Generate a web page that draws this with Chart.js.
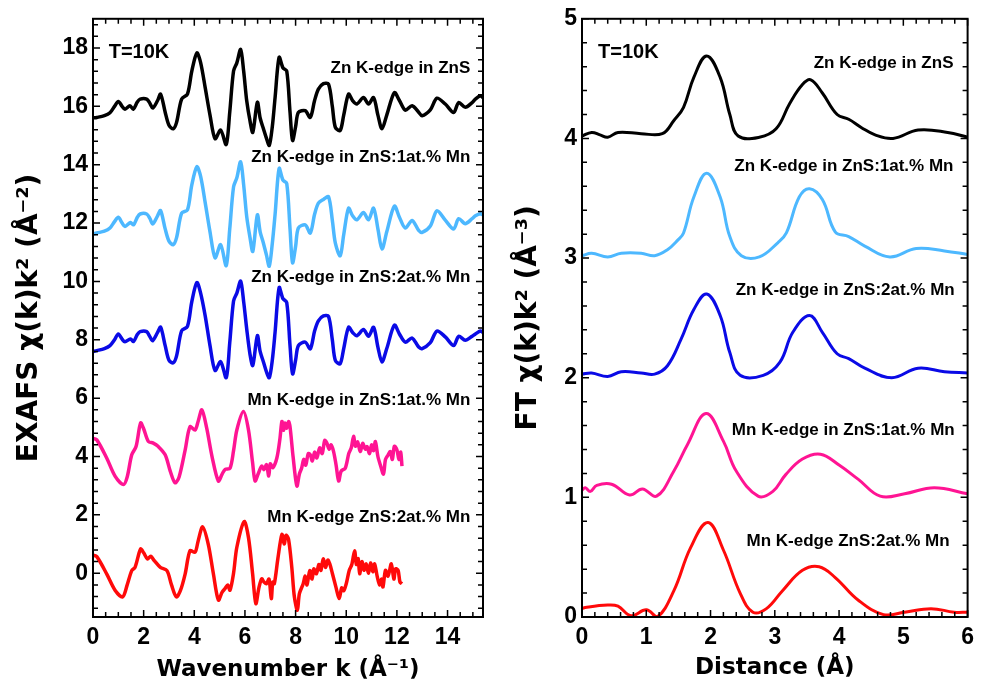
<!DOCTYPE html>
<html>
<head>
<meta charset="utf-8">
<script src="https://cdn.jsdelivr.net/npm/chart.js@4.4.1/dist/chart.umd.min.js"></script>
<style>
  html, body { margin: 0; padding: 0; background: #fff; }
  #wrap { position: relative; width: 981px; height: 689px; }
  #exafs { position: absolute; left: 0; top: 0; }
  #ft { position: absolute; left: 490px; top: 0; }
</style>
</head>
<body>
<div id="wrap">
  <canvas id="exafs" width="490" height="689"></canvas>
  <canvas id="ft" width="491" height="689"></canvas>
</div>
<script>
// ---- EXAFS chi(k)k^2, offset curves (left panel) ----
const znsK = [0.0, 0.15, 0.45, 0.67, 0.85, 1.0, 1.15, 1.26, 1.46, 1.59, 1.75, 1.86, 2.12, 2.25, 2.36, 2.55, 2.67, 2.85, 3.0, 3.17, 3.3, 3.5, 3.73, 3.9, 4.1, 4.25, 4.43, 4.62, 4.82, 5.04, 5.26, 5.4, 5.55, 5.68, 5.83, 5.95, 6.07, 6.2, 6.31, 6.49, 6.6, 6.73, 6.85, 6.96, 7.08, 7.19, 7.35, 7.5, 7.65, 7.78, 7.88, 8.0, 8.11, 8.38, 8.58, 8.75, 8.9, 9.1, 9.3, 9.45, 9.57, 9.76, 9.9, 10.09, 10.25, 10.42, 10.68, 10.88, 11.08, 11.25, 11.41, 11.6, 11.9, 12.1, 12.33, 12.6, 12.86, 12.99, 13.32, 13.58, 13.91, 14.24, 14.44, 14.7, 14.97, 15.1, 15.3, 15.4];
const znsV = [15.6, 15.62, 15.68, 15.78, 16.0, 16.17, 16.0, 15.9, 16.02, 15.9, 16.15, 16.25, 16.25, 16.1, 15.94, 16.2, 16.42, 15.8, 15.35, 15.23, 15.45, 16.25, 16.42, 17.2, 17.83, 17.5, 16.64, 15.7, 14.89, 15.19, 14.69, 15.8, 17.21, 17.49, 17.95, 17.2, 16.19, 15.5, 15.11, 16.14, 15.6, 15.23, 14.9, 14.66, 15.3, 16.3, 17.68, 17.32, 17.21, 15.8, 14.83, 15.3, 15.79, 15.85, 15.62, 16.2, 16.59, 16.78, 16.76, 16.0, 15.28, 15.17, 15.7, 16.42, 16.2, 16.08, 16.3, 16.08, 16.3, 15.7, 15.23, 15.7, 16.47, 16.2, 15.87, 16.02, 15.8, 15.68, 15.88, 16.28, 16.08, 15.79, 16.13, 15.97, 16.13, 16.25, 16.36, 16.3];

const zn1K = [0.0, 0.15, 0.45, 0.67, 0.85, 1.0, 1.15, 1.26, 1.48, 1.6, 1.75, 1.86, 2.12, 2.25, 2.36, 2.55, 2.67, 2.85, 3.0, 3.17, 3.3, 3.5, 3.73, 3.9, 4.1, 4.25, 4.43, 4.62, 4.82, 5.04, 5.26, 5.4, 5.55, 5.68, 5.83, 5.95, 6.07, 6.2, 6.31, 6.49, 6.6, 6.73, 6.85, 6.96, 7.08, 7.19, 7.35, 7.5, 7.65, 7.78, 7.88, 8.0, 8.11, 8.38, 8.58, 8.75, 8.9, 9.1, 9.3, 9.45, 9.57, 9.76, 9.9, 10.09, 10.25, 10.42, 10.68, 10.88, 11.08, 11.25, 11.41, 11.6, 11.9, 12.1, 12.33, 12.6, 12.86, 13.0, 13.32, 13.58, 13.91, 14.24, 14.44, 14.7, 14.97, 15.1, 15.3, 15.4];
const zn1V = [11.62, 11.66, 11.72, 11.83, 12.05, 12.2, 12.0, 11.88, 12.02, 11.94, 12.2, 12.31, 12.31, 12.15, 11.97, 12.25, 12.43, 11.8, 11.38, 11.26, 11.5, 12.34, 12.45, 13.3, 13.93, 13.6, 12.7, 11.7, 10.81, 11.26, 10.54, 11.8, 13.24, 13.55, 14.1, 13.3, 12.22, 11.5, 11.03, 12.28, 11.7, 11.31, 10.9, 10.52, 11.3, 12.3, 13.87, 13.47, 13.36, 11.8, 10.64, 11.2, 11.83, 11.94, 11.66, 12.3, 12.68, 12.81, 12.9, 12.1, 11.31, 10.88, 11.6, 12.51, 12.25, 12.11, 12.36, 12.11, 12.51, 11.8, 11.11, 11.7, 12.58, 12.2, 11.83, 12.09, 11.75, 11.68, 11.9, 12.42, 12.1, 11.8, 12.15, 11.98, 12.15, 12.25, 12.32, 12.28];

const zn2K = [0.0, 0.15, 0.45, 0.67, 0.85, 1.0, 1.15, 1.26, 1.48, 1.6, 1.75, 1.86, 2.12, 2.25, 2.36, 2.55, 2.67, 2.85, 3.0, 3.17, 3.3, 3.5, 3.73, 3.9, 4.1, 4.25, 4.43, 4.62, 4.82, 5.04, 5.26, 5.4, 5.55, 5.68, 5.83, 5.95, 6.07, 6.2, 6.31, 6.49, 6.6, 6.73, 6.85, 6.96, 7.08, 7.19, 7.35, 7.5, 7.65, 7.78, 7.88, 8.0, 8.11, 8.38, 8.58, 8.75, 8.9, 9.1, 9.3, 9.45, 9.57, 9.76, 9.9, 10.09, 10.25, 10.42, 10.68, 10.88, 11.08, 11.25, 11.41, 11.6, 11.9, 12.1, 12.33, 12.6, 12.86, 13.0, 13.32, 13.58, 13.91, 14.24, 14.44, 14.7, 14.97, 15.1, 15.3, 15.4];
const zn2V = [7.6, 7.63, 7.7, 7.8, 8.0, 8.2, 8.02, 7.93, 8.03, 7.94, 8.18, 8.28, 8.28, 8.1, 7.97, 8.25, 8.43, 7.8, 7.3, 7.21, 7.45, 8.31, 8.46, 9.3, 9.96, 9.6, 8.82, 7.8, 6.95, 7.25, 6.7, 7.9, 9.33, 9.6, 10.01, 9.3, 8.37, 7.5, 7.12, 8.14, 7.6, 7.24, 6.9, 6.7, 7.3, 8.26, 9.79, 9.41, 9.28, 7.8, 6.83, 7.3, 7.8, 7.92, 7.69, 8.3, 8.65, 8.82, 8.8, 8.0, 7.29, 7.18, 7.7, 8.43, 8.25, 8.14, 8.35, 8.12, 8.43, 7.75, 7.24, 7.7, 8.5, 8.2, 7.92, 8.06, 7.75, 7.7, 7.9, 8.3, 8.1, 7.8, 8.12, 7.98, 8.12, 8.2, 8.3, 8.25];

const mn1K = [0.0, 0.15, 0.54, 0.87, 1.2, 1.35, 1.53, 1.7, 1.88, 2.0, 2.19, 2.38, 2.58, 2.85, 3.05, 3.24, 3.4, 3.64, 3.83, 4.03, 4.15, 4.3, 4.49, 4.7, 4.95, 5.1, 5.22, 5.41, 5.55, 5.68, 5.94, 6.14, 6.3, 6.4, 6.52, 6.66, 6.75, 6.85, 6.94, 7.0, 7.1, 7.26, 7.38, 7.46, 7.52, 7.58, 7.65, 7.72, 7.78, 7.9, 8.05, 8.15, 8.24, 8.32, 8.4, 8.5, 8.58, 8.66, 8.75, 8.84, 8.95, 9.05, 9.15, 9.23, 9.32, 9.4, 9.5, 9.6, 9.7, 9.8, 9.96, 10.1, 10.2, 10.29, 10.36, 10.45, 10.55, 10.65, 10.75, 10.82, 10.92, 11.0, 11.08, 11.15, 11.25, 11.35, 11.47, 11.55, 11.65, 11.74, 11.82, 11.9, 12.0, 12.08, 12.15, 12.2];
const mn1V = [4.62, 4.57, 3.95, 3.33, 3.04, 3.3, 4.06, 4.34, 5.15, 4.95, 4.51, 4.46, 4.34, 4.06, 3.5, 3.1, 3.3, 4.23, 5.02, 4.91, 5.2, 5.6, 4.97, 4.0, 3.16, 3.4, 3.56, 3.6, 4.2, 4.91, 5.54, 4.91, 3.8, 3.16, 3.4, 3.67, 3.55, 3.72, 3.33, 3.75, 3.62, 3.95, 4.6, 5.2, 4.9, 5.15, 4.97, 5.2, 5.02, 4.0, 2.99, 3.4, 3.61, 3.9, 3.7, 4.1, 4.06, 3.85, 4.15, 3.95, 4.3, 4.1, 4.55, 4.47, 4.25, 4.4, 4.17, 3.7, 3.16, 3.5, 3.6, 4.1, 4.3, 4.69, 4.35, 4.5, 4.17, 4.45, 4.25, 4.34, 4.1, 4.4, 4.2, 4.51, 4.0, 3.7, 3.4, 3.9, 4.05, 4.17, 3.9, 4.35, 4.23, 3.9, 4.15, 3.67];

const mn2K = [0.0, 0.15, 0.54, 0.87, 1.17, 1.35, 1.53, 1.66, 1.88, 2.0, 2.15, 2.28, 2.42, 2.66, 2.92, 3.1, 3.29, 3.45, 3.64, 3.83, 4.03, 4.15, 4.33, 4.55, 4.75, 4.95, 5.1, 5.22, 5.32, 5.41, 5.55, 5.68, 5.97, 6.14, 6.3, 6.43, 6.55, 6.66, 6.75, 6.85, 6.95, 7.04, 7.1, 7.16, 7.3, 7.46, 7.55, 7.62, 7.72, 7.85, 7.95, 8.07, 8.15, 8.3, 8.38, 8.45, 8.56, 8.65, 8.72, 8.82, 8.92, 9.0, 9.09, 9.18, 9.27, 9.35, 9.45, 9.6, 9.72, 9.82, 9.9, 10.0, 10.12, 10.22, 10.33, 10.4, 10.47, 10.53, 10.62, 10.7, 10.79, 10.88, 10.96, 11.05, 11.12, 11.22, 11.32, 11.4, 11.45, 11.55, 11.65, 11.78, 11.88, 11.95, 12.05, 12.12, 12.2];
const mn2V = [0.62, 0.57, -0.02, -0.58, -0.81, -0.4, 0.09, 0.2, 0.83, 0.7, 0.49, 0.58, 0.43, 0.2, 0.09, -0.4, -0.81, -0.6, -0.02, 0.77, 0.72, 1.1, 1.59, 1.0, 0.0, -0.92, -0.65, -0.52, -0.4, -0.58, 0.0, 0.89, 1.77, 1.22, 0.0, -1.04, -0.5, -0.19, -0.3, -0.36, -0.2, -0.87, -0.3, -0.36, 0.5, 1.33, 1.0, 1.3, 1.17, 0.2, -0.8, -1.27, -0.7, -0.36, -0.1, -0.4, 0.09, -0.2, 0.15, -0.02, 0.3, 0.1, 0.49, 0.2, 0.45, 0.32, 0.0, -0.5, -0.87, -0.5, -0.6, -0.36, 0.1, 0.3, 0.77, 0.3, 0.5, -0.02, 0.4, 0.1, 0.32, 0.0, 0.35, 0.05, 0.32, -0.1, -0.4, -0.2, -0.47, 0.1, -0.1, 0.32, -0.2, 0.15, 0.09, -0.3, -0.36];

// ---- Fourier transforms (right panel) ----
const ftZnsR = [0.0, 0.15, 0.28, 0.4, 0.56, 0.92, 1.25, 1.43, 1.58, 1.74, 1.94, 2.15, 2.3, 2.43, 2.76, 3.02, 3.23, 3.43, 3.56, 3.74, 3.97, 4.15, 4.35, 4.56, 4.84, 5.23, 5.69, 6.0];
const ftZnsV = [4.02, 4.05, 4.03, 4.01, 4.05, 4.04, 4.04, 4.15, 4.26, 4.51, 4.69, 4.51, 4.2, 4.02, 4.01, 4.08, 4.29, 4.45, 4.49, 4.38, 4.2, 4.16, 4.09, 4.03, 4.0, 4.07, 4.05, 4.01];

const ftZn1R = [0.0, 0.15, 0.4, 0.61, 0.92, 1.13, 1.33, 1.49, 1.58, 1.74, 1.94, 2.15, 2.3, 2.48, 2.76, 3.05, 3.18, 3.38, 3.54, 3.74, 3.94, 4.15, 4.4, 4.79, 5.2, 5.64, 6.0];
const ftZn1V = [3.02, 3.04, 3.01, 3.04, 3.04, 3.02, 3.07, 3.15, 3.21, 3.51, 3.71, 3.51, 3.18, 3.02, 3.01, 3.13, 3.21, 3.51, 3.58, 3.49, 3.22, 3.18, 3.1, 3.01, 3.08, 3.06, 3.03];

const ftZn2R = [0.0, 0.15, 0.4, 0.61, 0.92, 1.13, 1.33, 1.54, 1.74, 1.94, 2.15, 2.3, 2.46, 2.82, 3.08, 3.28, 3.54, 3.74, 3.97, 4.15, 4.4, 4.82, 5.23, 5.64, 6.0];
const ftZn2V = [2.03, 2.04, 2.01, 2.05, 2.04, 2.03, 2.1, 2.32, 2.57, 2.7, 2.52, 2.21, 2.02, 2.02, 2.13, 2.38, 2.52, 2.38, 2.2, 2.16, 2.08, 2.0, 2.08, 2.05, 2.04];

const ftMn1R = [0.0, 0.05, 0.13, 0.23, 0.46, 0.74, 0.94, 1.16, 1.43, 1.64, 1.93, 2.2, 2.4, 2.74, 2.97, 3.17, 3.43, 3.71, 4.0, 4.3, 4.64, 5.02, 5.48, 6.0];
const ftMn1V = [1.06, 1.08, 1.05, 1.1, 1.11, 1.02, 1.07, 1.01, 1.22, 1.44, 1.7, 1.47, 1.22, 1.01, 1.05, 1.19, 1.32, 1.36, 1.27, 1.15, 1.01, 1.03, 1.08, 1.03];

const ftMn2R = [0.0, 0.05, 0.4, 0.56, 0.76, 1.0, 1.17, 1.43, 1.69, 1.96, 2.2, 2.46, 2.66, 2.87, 3.12, 3.43, 3.69, 3.94, 4.3, 4.69, 5.02, 5.43, 5.79, 6.0];
const ftMn2V = [0.07, 0.08, 0.1, 0.09, 0.01, 0.06, 0.0, 0.22, 0.58, 0.79, 0.56, 0.2, 0.04, 0.07, 0.22, 0.39, 0.42, 0.33, 0.14, 0.02, 0.04, 0.07, 0.04, 0.04];

const seriesNames = ['Zn K-edge in ZnS', 'Zn K-edge in ZnS:1at.% Mn', 'Zn K-edge in ZnS:2at.% Mn', 'Mn K-edge in ZnS:1at.% Mn', 'Mn K-edge ZnS:2at.% Mn'];
const seriesColors = ['#000000', '#4db8ff', '#0a0ae6', '#ff1493', '#ff0a0a'];

const FONT = '"Liberation Sans", Arial, sans-serif';

function toPoints(xs, ys) {
    return xs.map((x, i) => ({ x: x, y: ys[i] }));
}

function makeDatasets(list, width, tension) {
    return list.map((pair, i) => ({
        label: seriesNames[i],
        data: toPoints(pair[0], pair[1]),
        borderColor: seriesColors[i],
        borderWidth: width,
        borderJoinStyle: 'round',
        pointRadius: 0,
        fill: false,
        tension: tension
    }));
}

// inward ticks on all four sides + box frame
const frameTicks = {
    id: 'frameTicks',
    afterDraw(chart, args, opts) {
        const { ctx, chartArea: a } = chart;
        const xs = chart.scales.x, ys = chart.scales.y;
        ctx.save();
        ctx.strokeStyle = '#000';
        ctx.lineWidth = 1.5;
        ctx.beginPath();
        const i0 = Math.ceil(xs.min / opts.xStep - 1e-6);
        const i1 = Math.floor(xs.max / opts.xStep + 1e-6);
        for (let i = i0; i <= i1; i++) {
            const v = i * opts.xStep;
            const px = xs.getPixelForValue(v);
            const len = (i % opts.xEvery === 0) ? 7 : 5;
            ctx.moveTo(px, a.bottom); ctx.lineTo(px, a.bottom - len);
            ctx.moveTo(px, a.top); ctx.lineTo(px, a.top + len);
        }
        const j0 = Math.ceil(ys.min / opts.yStep - 1e-6);
        const j1 = Math.floor(ys.max / opts.yStep + 1e-6);
        for (let j = j0; j <= j1; j++) {
            const v = j * opts.yStep;
            const py = ys.getPixelForValue(v);
            const len = (j % opts.yEvery === 0) ? 7 : 5;
            ctx.moveTo(a.left, py); ctx.lineTo(a.left + len, py);
            ctx.moveTo(a.right, py); ctx.lineTo(a.right - len, py);
        }
        ctx.stroke();
        ctx.lineWidth = 2;
        ctx.strokeRect(a.left, a.top, a.right - a.left, a.bottom - a.top);
        ctx.restore();
    }
};

// text labels placed in data coordinates
const curveLabels = {
    id: 'curveLabels',
    afterDatasetsDraw(chart, args, opts) {
        const { ctx } = chart;
        const xs = chart.scales.x, ys = chart.scales.y;
        ctx.save();
        ctx.fillStyle = '#000';
        ctx.textBaseline = 'middle';
        opts.items.forEach(it => {
            ctx.font = 'bold ' + it.size + 'px ' + FONT;
            ctx.textAlign = it.align;
            ctx.fillText(it.text, xs.getPixelForValue(it.x), ys.getPixelForValue(it.y));
        });
        ctx.restore();
    }
};

function axisOpts(min, max, step, title, titleFont, titlePad, tickPad, fitFn) {
    return {
        type: 'linear',
        min: min,
        max: max,
        grid: { display: false, drawTicks: false },
        border: { display: false },
        ticks: {
            stepSize: step,
            includeBounds: false,
            autoSkip: false,
            maxRotation: 0,
            color: '#000',
            padding: tickPad,
            font: { family: FONT, size: 23, weight: 'bold' }
        },
        title: {
            display: true,
            text: title,
            color: '#000',
            font: titleFont,
            padding: titlePad
        },
        afterFit: fitFn
    };
}

const xTitleFont = { family: '"DejaVu Sans", ' + FONT, size: 23, weight: 'bold' };
const yTitleFont = { family: '"DejaVu Sans", ' + FONT, size: 28, weight: 'bold' };

new Chart(document.getElementById('exafs'), {
    type: 'line',
    data: {
        datasets: makeDatasets([[znsK, znsV], [zn1K, zn1V], [zn2K, zn2V], [mn1K, mn1V], [mn2K, mn2V]], 3.5, 0.3)
    },
    options: {
        responsive: false,
        devicePixelRatio: 1,
        animation: false,
        layout: { padding: { top: 14, right: 7, left: 0, bottom: 0 } },
        scales: {
            x: axisOpts(0, 15.4, 2, 'Wavenumber k (Å⁻¹)', xTitleFont, { top: 0, bottom: 5 }, 7, s => { s.height = 72; }),
            y: axisOpts(-1.5, 19, 2, 'EXAFS χ(k)k² (Å⁻²)', yTitleFont, { top: 13, bottom: 0 }, 5, s => { s.width = 93; })
        },
        plugins: {
            legend: { display: false },
            tooltip: { enabled: false },
            frameTicks: { xStep: 0.5, xEvery: 4, yStep: 0.4, yEvery: 5 },
            curveLabels: {
                items: [
                    { text: 'T=10K', x: 0.62, y: 17.84, align: 'left', size: 20 },
                    { text: seriesNames[0], x: 14.9, y: 17.3, align: 'right', size: 17 },
                    { text: seriesNames[1], x: 14.9, y: 14.27, align: 'right', size: 17 },
                    { text: seriesNames[2], x: 14.9, y: 10.13, align: 'right', size: 17 },
                    { text: seriesNames[3], x: 14.9, y: 5.91, align: 'right', size: 17 },
                    { text: seriesNames[4], x: 14.9, y: 1.9, align: 'right', size: 17 }
                ]
            }
        }
    },
    plugins: [frameTicks, curveLabels]
});

new Chart(document.getElementById('ft'), {
    type: 'line',
    data: {
        datasets: makeDatasets([[ftZnsR, ftZnsV], [ftZn1R, ftZn1V], [ftZn2R, ftZn2V], [ftMn1R, ftMn1V], [ftMn2R, ftMn2V]], 3, 0.4)
    },
    options: {
        responsive: false,
        devicePixelRatio: 1,
        animation: false,
        layout: { padding: { top: 14, right: 9, left: 0, bottom: 0 } },
        scales: {
            x: axisOpts(0, 6, 1, 'Distance (Å)', xTitleFont, { top: 0, bottom: 7 }, 7, s => { s.height = 72; }),
            y: axisOpts(0, 5, 1, 'FT χ(k)k² (Å⁻³)', yTitleFont, { top: 22, bottom: 0 }, 5, s => { s.width = 92; })
        },
        plugins: {
            legend: { display: false },
            tooltip: { enabled: false },
            frameTicks: { xStep: 0.2, xEvery: 5, yStep: 0.2, yEvery: 5 },
            curveLabels: {
                items: [
                    { text: 'T=10K', x: 0.25, y: 4.72, align: 'left', size: 20 },
                    { text: seriesNames[0], x: 5.78, y: 4.63, align: 'right', size: 17 },
                    { text: seriesNames[1], x: 5.78, y: 3.77, align: 'right', size: 17 },
                    { text: seriesNames[2], x: 5.8, y: 2.73, align: 'right', size: 17 },
                    { text: seriesNames[3], x: 5.8, y: 1.56, align: 'right', size: 17 },
                    { text: seriesNames[4], x: 5.72, y: 0.63, align: 'right', size: 17 }
                ]
            }
        }
    },
    plugins: [frameTicks, curveLabels]
});
</script>
</body>
</html>
